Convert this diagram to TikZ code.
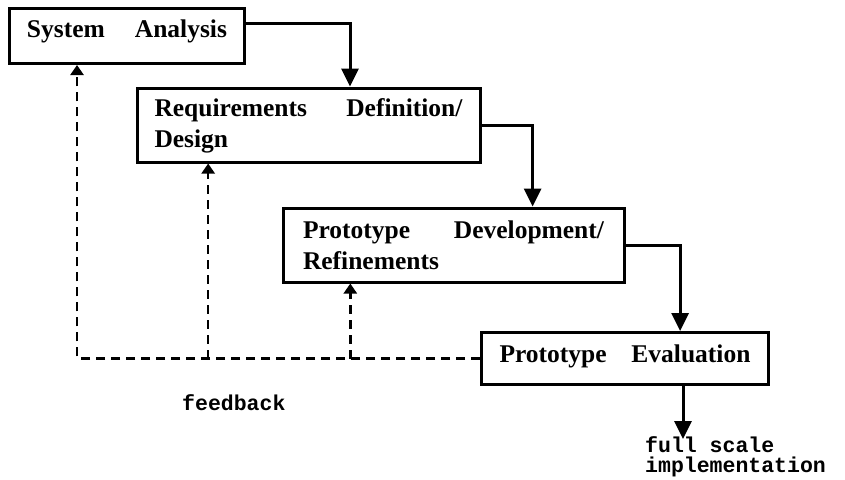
\documentclass[tikz,border=0pt]{standalone}
\usepackage{fontspec}
\setmainfont{Liberation Serif}
\newfontfamily\monof{Liberation Mono}
\usetikzlibrary{arrows.meta,calc}
\begin{document}
\begin{tikzpicture}[x=1pt,y=1pt,
  box/.style={draw, line width=3pt, inner sep=0pt,
    font=\bfseries\fontsize{25.5}{31}\selectfont, align=left},
  flow/.style={line width=3pt, -{Triangle[length=18pt,width=17pt]}},
  fb/.style={line width=2.4pt, dash pattern=on 9pt off 6pt,
    -{Triangle[length=10pt,width=13pt]}},
  mono/.style={font=\monof\bfseries\fontsize{21.5}{20.5}\selectfont,
    inner sep=0pt, align=left}]
\useasboundingbox (0,0) rectangle (845,-479);

% boxes
\node[box, anchor=north west, minimum width=235pt, text width=200pt,
      text height=28.5pt, text depth=26.5pt] (b1) at (8,-7)
      {System\hfill Analysis};
\node[box, minimum width=343pt, minimum height=74pt, text width=308pt]
      (b2) at (308.5,-125) {\rule{0pt}{20pt}Requirements\hfill Definition/\\Design};
\node[box, minimum width=341pt, minimum height=74pt, text width=301pt]
      (b3) at (453.5,-245) {Prototype\hfill Development/\\Refinements};
\node[box, anchor=north west, minimum width=287pt, text width=251pt,
      text height=29.5pt, text depth=22.5pt] (b4) at (480,-331)
      {Prototype\hfill Evaluation};

% labels
\node[mono, anchor=west] (fbl) at (182,-403) {feedback};
\node[mono, anchor=north west] (impl) at (645,-436)
      {full scale\\implementation};

% attachment points
\coordinate (b1r) at ($(b1.north east)!0.29!(b1.south east)$);
\coordinate (b2t) at ($(b2.north west)!0.62!(b2.north east)$);
\coordinate (b3t) at ($(b3.north west)!0.73!(b3.north east)$);
\coordinate (b4t) at ($(b4.north west)!0.69!(b4.north east)$);
\coordinate (b4b) at ($(b4.south west)!0.70!(b4.south east)$);
\coordinate (out) at ($(b4b)+(0,-53)$);
\coordinate (b1s) at ($(b1.south west)!0.29!(b1.south east)$);
\coordinate (b2s) at ($(b2.south west)!0.21!(b2.south east)$);
\coordinate (b3s) at ($(b3.south west)!0.20!(b3.south east)$);

% main flow
\draw[flow] (b1r) -| (b2t);
\draw[flow] (b2.east) -| (b3t);
\draw[flow] (b3.east) -| (b4t);
\draw[flow] (b4b) -- (out);

% feedback
\draw[fb] (b4.west) -| (b1s);
\draw[fb] (b4.west -| b2s) -- (b2s);
\draw[fb] (b4.west -| b3s) -- (b3s);
\end{tikzpicture}
\end{document}
